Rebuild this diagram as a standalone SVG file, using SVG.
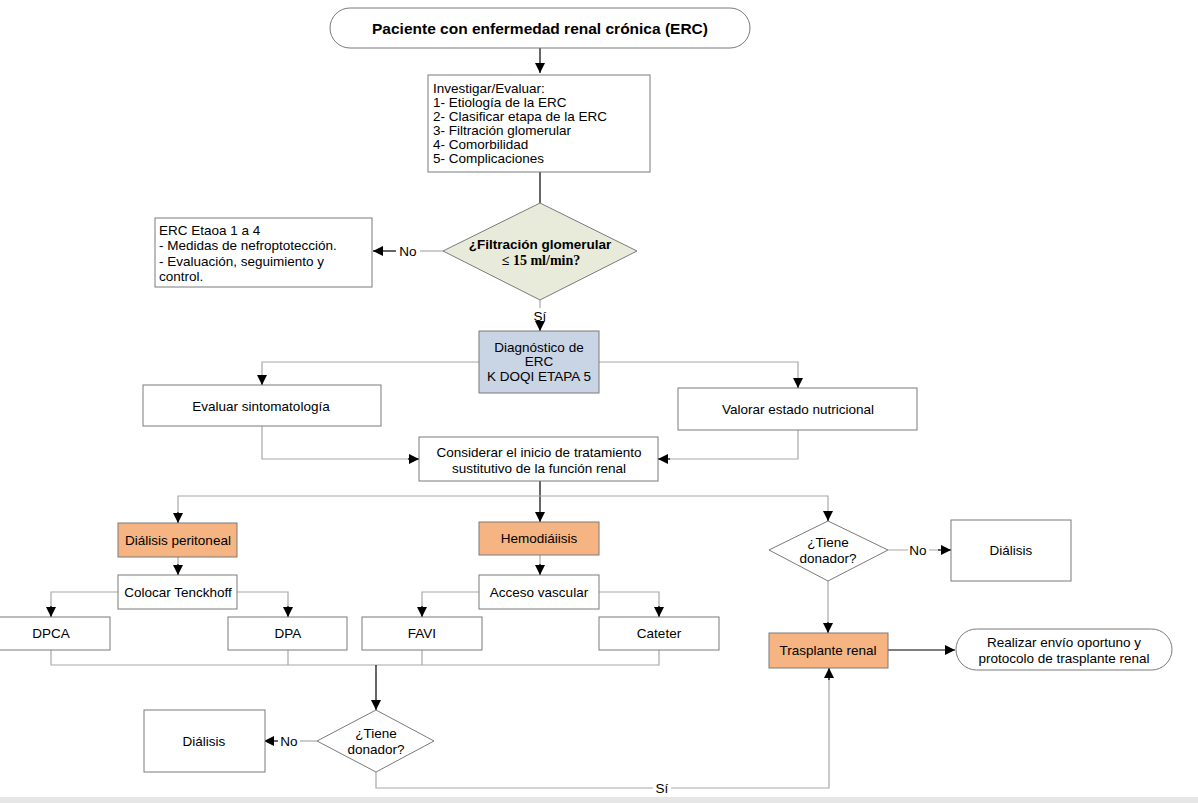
<svg xmlns="http://www.w3.org/2000/svg" width="1198" height="803" viewBox="0 0 1198 803">
<defs>
<marker id="ah" markerUnits="userSpaceOnUse" markerWidth="10" markerHeight="10" viewBox="0 0 10 10" refX="10" refY="5" orient="auto">
<path d="M0,0 L10,5 L0,10 Z" fill="#000"/>
</marker>
</defs>
<style>
text{font-family:"Liberation Sans",Arial,sans-serif;font-size:13.5px;fill:#000}
.t{text-anchor:middle}
.b{font-weight:bold}
.box{fill:#fff;stroke:#7a7a7a;stroke-width:1}
.org{fill:#F6B482;stroke:#7a7a7a;stroke-width:1}
.blu{fill:#C9D4E4;stroke:#7a7a7a;stroke-width:1}
.grn{fill:#E8EBDA;stroke:#7a7a7a;stroke-width:1}
.c{fill:none;stroke:#a8a8a8;stroke-width:1.2}
.k{fill:none;stroke:#000;stroke-width:1.2}
</style>
<rect x="0" y="0" width="1198" height="803" fill="#fff"/>
<rect x="0" y="797" width="1198" height="6" fill="#e6e6e6"/>

<g id="connectors">
<path class="k" d="M540,48 V73" marker-end="url(#ah)"/>
<path class="k" d="M540,172 V203"/>
<path class="c" d="M443,251 H420"/>
<path class="k" d="M396,251 H373" marker-end="url(#ah)"/>
<text x="408" y="256" class="t">No</text>
<path class="c" d="M540,300 V308"/>
<text x="540" y="321" class="t">Sí</text>
<path class="k" d="M540,322 V331" marker-end="url(#ah)"/>
<path class="c" d="M479,362 H262 V376"/>
<path class="k" d="M262,375 V385" marker-end="url(#ah)"/>
<path class="c" d="M599,362 H798 V379"/>
<path class="k" d="M798,378 V388" marker-end="url(#ah)"/>
<path class="c" d="M262,426 V459 H409"/>
<path class="k" d="M408,459 H419" marker-end="url(#ah)"/>
<path class="c" d="M798,430 V459 H669"/>
<path class="k" d="M670,459 H658" marker-end="url(#ah)"/>
<path class="k" d="M540,481 V522" marker-end="url(#ah)"/>
<path class="c" d="M178,514 V496 H828 V512"/>
<path class="k" d="M178,512 V523" marker-end="url(#ah)"/>
<path class="k" d="M828,511 V521" marker-end="url(#ah)"/>
<path class="c" d="M178,557 V565"/>
<path class="k" d="M178,564 V575" marker-end="url(#ah)"/>
<path class="c" d="M540,555 V565"/>
<path class="k" d="M540,564 V575" marker-end="url(#ah)"/>
<path class="c" d="M118,592 H51 V607"/>
<path class="k" d="M51,606 V617" marker-end="url(#ah)"/>
<path class="c" d="M237,592 H288 V607"/>
<path class="k" d="M288,606 V617" marker-end="url(#ah)"/>
<path class="c" d="M479,592 H422 V607"/>
<path class="k" d="M422,606 V617" marker-end="url(#ah)"/>
<path class="c" d="M599,592 H659 V607"/>
<path class="k" d="M659,606 V617" marker-end="url(#ah)"/>
<path class="c" d="M51,650 V665 H659 V650 M288,650 V665 M422,650 V665"/>
<path class="k" d="M376,665 V710" marker-end="url(#ah)"/>
<path class="c" d="M317,741 H300"/>
<path class="k" d="M278,741 H264" marker-end="url(#ah)"/>
<text x="289" y="746" class="t">No</text>
<path class="c" d="M376,772 V788 H653 M671,788 H829 V678"/>
<text x="662" y="793" class="t">Sí</text>
<path class="k" d="M829,680 V668" marker-end="url(#ah)"/>
<path class="c" d="M888,550 H908 M929,550 H940"/>
<path class="k" d="M938,550 H951" marker-end="url(#ah)"/>
<text x="918" y="555" class="t">No</text>
<path class="c" d="M828,581 V623"/>
<path class="k" d="M828,622 V633" marker-end="url(#ah)"/>
<path class="k" d="M888,650 H955" marker-end="url(#ah)"/>
</g>

<g id="n-start">
<rect x="330" y="8" width="420" height="40" rx="20" ry="20" class="box"/>
<text x="540" y="34" class="t b" style="font-size:15.5px">Paciente con enfermedad renal crónica (ERC)</text>
</g>
<g id="n-investigar">
<rect x="428" y="75" width="222" height="97" class="box"/>
<text x="433" y="93">Investigar/Evaluar:</text>
<text x="433" y="107">1- Etiología de la ERC</text>
<text x="433" y="121">2- Clasificar etapa de la ERC</text>
<text x="433" y="135">3- Filtración glomerular</text>
<text x="433" y="149">4- Comorbilidad</text>
<text x="433" y="163">5- Complicaciones</text>
</g>
<g id="n-filtracion">
<polygon points="540,203 637,251 540,300 443,251" class="grn"/>
<text x="540" y="249" class="t b">¿Filtración glomerular</text>
<text x="541" y="265" class="t b" style="font-family:'Liberation Serif',serif;font-size:14px">≤ 15 ml/min?</text>
</g>
<g id="n-etapa">
<rect x="155" y="218" width="217" height="69" class="box"/>
<text x="159" y="235">ERC Etaoa 1 a 4</text>
<text x="159" y="250">- Medidas de nefroptotección.</text>
<text x="159" y="266">- Evaluación, seguimiento y</text>
<text x="159" y="281">control.</text>
</g>
<g id="n-diagnostico">
<rect x="479" y="331" width="120" height="62" class="blu"/>
<text x="539" y="352" class="t">Diagnóstico de</text>
<text x="539" y="366" class="t">ERC</text>
<text x="539" y="381" class="t">K DOQI ETAPA 5</text>
</g>
<g id="n-evaluar">
<rect x="143" y="385" width="238" height="41" class="box"/>
<text x="261" y="411" class="t">Evaluar sintomatología</text>
</g>
<g id="n-valorar">
<rect x="678" y="388" width="239" height="42" class="box"/>
<text x="798" y="414" class="t">Valorar estado nutricional</text>
</g>
<g id="n-considerar">
<rect x="419" y="437" width="239" height="44" class="box"/>
<text x="539" y="457" class="t">Considerar el inicio de tratamiento</text>
<text x="539" y="473" class="t">sustitutivo de la función renal</text>
</g>
<g id="n-peritoneal">
<rect x="118" y="523" width="119" height="34" class="org"/>
<text x="178" y="545" class="t">Diálisis peritoneal</text>
</g>
<g id="n-hemodialisis">
<rect x="479" y="522" width="120" height="33" class="org"/>
<text x="539" y="543" class="t">Hemodiáiisis</text>
</g>
<g id="n-tenckhoff">
<rect x="118" y="575" width="119" height="34" class="box"/>
<text x="178" y="597" class="t">Colocar Tenckhoff</text>
</g>
<g id="n-acceso">
<rect x="479" y="575" width="120" height="34" class="box"/>
<text x="539" y="597" class="t">Acceso vascular</text>
</g>
<g id="n-dpca">
<rect x="-1" y="617" width="111" height="33" class="box"/>
<text x="51" y="638" class="t">DPCA</text>
</g>
<g id="n-dpa">
<rect x="228" y="617" width="119" height="33" class="box"/>
<text x="288" y="638" class="t">DPA</text>
</g>
<g id="n-favi">
<rect x="362" y="617" width="120" height="33" class="box"/>
<text x="422" y="638" class="t">FAVI</text>
</g>
<g id="n-cateter">
<rect x="599" y="617" width="120" height="33" class="box"/>
<text x="659" y="638" class="t">Cateter</text>
</g>
<g id="n-donador1">
<polygon points="828,521 888,550 828,581 769,550" class="box"/>
<text x="828" y="547" class="t">¿Tiene</text>
<text x="828" y="563" class="t">donador?</text>
</g>
<g id="n-dialisis1">
<rect x="951" y="520" width="120" height="61" class="box"/>
<text x="1011" y="555" class="t">Diálisis</text>
</g>
<g id="n-trasplante">
<rect x="769" y="633" width="119" height="35" class="org"/>
<text x="828" y="655" class="t">Trasplante renal</text>
</g>
<g id="n-realizar">
<rect x="956" y="629" width="216" height="41" rx="20.5" ry="20.5" class="box"/>
<text x="1064" y="647" class="t">Realizar envío oportuno y</text>
<text x="1064" y="663" class="t">protocolo de trasplante renal</text>
</g>
<g id="n-donador2">
<polygon points="376,710 434,741 376,772 317,741" class="box"/>
<text x="376" y="738" class="t">¿Tiene</text>
<text x="376" y="754" class="t">donador?</text>
</g>
<g id="n-dialisis2">
<rect x="144" y="710" width="121" height="62" class="box"/>
<text x="204" y="746" class="t">Diálisis</text>
</g>
</svg>
